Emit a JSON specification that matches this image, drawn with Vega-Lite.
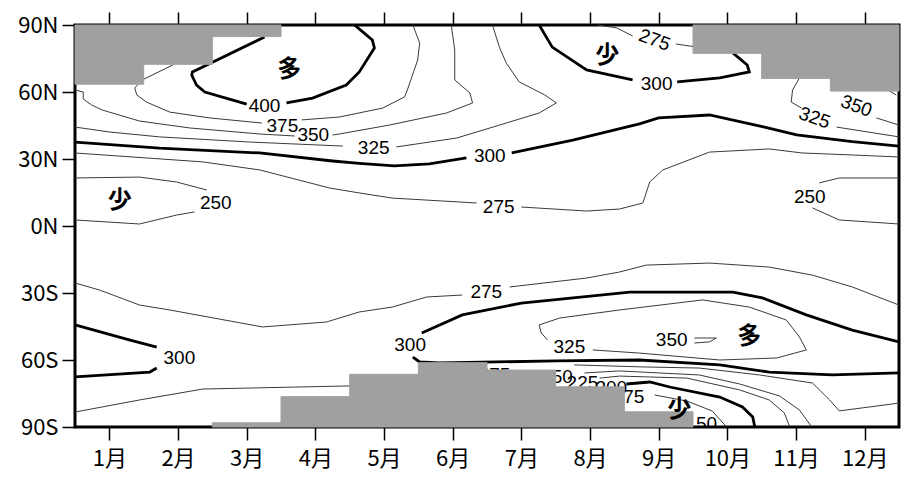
{
  "$schema": "https://vega.github.io/schema/vega-lite/v6.json",
  "width": 824,
  "height": 402,
  "autosize": {"type": "none"},
  "padding": {"left": 75, "top": 25, "right": 5, "bottom": 50},
  "background": "white",
  "config": {
    "view": {"stroke": "black", "strokeWidth": 3},
    "axis": {"domain": false, "grid": false, "tickColor": "black", "tickWidth": 1.5, "tickSize": 13, "labelColor": "black", "labelFont": "Noto Sans CJK JP", "labelFontSize": 22, "labelPadding": 4, "labelOverlap": false, "title": null}
  },
  "resolve": {"axis": {"x": "independent"}},
  "datasets": {
    "lines": [
      {"c":"n400a","v":400,"m":3.26,"lat":84.6},{"c":"n400a","v":400,"m":2.21,"lat":69.0},{"c":"n400a","v":400,"m":2.20,"lat":67.6},{"c":"n400a","v":400,"m":2.27,"lat":63.1},{"c":"n400a","v":400,"m":2.39,"lat":60.0},{"c":"n400a","v":400,"m":2.90,"lat":55.5},{"c":"n400a","v":400,"m":3.00,"lat":54.6},
      {"c":"n400b","v":400,"m":3.58,"lat":55.1},{"c":"n400b","v":400,"m":3.96,"lat":57.3},{"c":"n400b","v":400,"m":4.45,"lat":63.1},{"c":"n400b","v":400,"m":4.64,"lat":69.0},{"c":"n400b","v":400,"m":4.86,"lat":79.7},{"c":"n400b","v":400,"m":4.83,"lat":83.3},{"c":"n400b","v":400,"m":4.69,"lat":86.9},{"c":"n400b","v":400,"m":4.57,"lat":90},
      {"c":"n375a","v":375,"m":1.95,"lat":72.5},{"c":"n375a","v":375,"m":1.48,"lat":65.4},{"c":"n375a","v":375,"m":1.37,"lat":61.8},{"c":"n375a","v":375,"m":1.40,"lat":58.7},{"c":"n375a","v":375,"m":1.54,"lat":55.5},{"c":"n375a","v":375,"m":1.88,"lat":51.0},{"c":"n375a","v":375,"m":2.46,"lat":48.4},{"c":"n375a","v":375,"m":3.22,"lat":46.1},
      {"c":"n375b","v":375,"m":3.80,"lat":47.5},{"c":"n375b","v":375,"m":4.35,"lat":48.8},{"c":"n375b","v":375,"m":4.98,"lat":52.8},{"c":"n375b","v":375,"m":5.30,"lat":57.8},{"c":"n375b","v":375,"m":5.34,"lat":60.9},{"c":"n375b","v":375,"m":5.49,"lat":74.3},{"c":"n375b","v":375,"m":5.52,"lat":81.9},{"c":"n375b","v":375,"m":5.42,"lat":90},
      {"c":"n350a","v":350,"m":0.5,"lat":60.9},{"c":"n350a","v":350,"m":0.62,"lat":60.0},{"c":"n350a","v":350,"m":0.62,"lat":56.9},{"c":"n350a","v":350,"m":0.74,"lat":54.2},{"c":"n350a","v":350,"m":0.90,"lat":51.9},{"c":"n350a","v":350,"m":1.44,"lat":47.0},{"c":"n350a","v":350,"m":2.17,"lat":43.9},{"c":"n350a","v":350,"m":3.19,"lat":41.2},{"c":"n350a","v":350,"m":3.70,"lat":40.3},
      {"c":"n350b","v":350,"m":4.25,"lat":40.75},{"c":"n350b","v":350,"m":4.35,"lat":41.2},{"c":"n350b","v":350,"m":5.08,"lat":45.2},{"c":"n350b","v":350,"m":5.91,"lat":50.6},{"c":"n350b","v":350,"m":6.29,"lat":55.1},{"c":"n350b","v":350,"m":6.25,"lat":59.6},{"c":"n350b","v":350,"m":6.03,"lat":65.4},{"c":"n350b","v":350,"m":6.03,"lat":78.8},{"c":"n350b","v":350,"m":5.98,"lat":90},
      {"c":"n325a","v":325,"m":0.5,"lat":44.3},{"c":"n325a","v":325,"m":1.0,"lat":42.1},{"c":"n325a","v":325,"m":1.73,"lat":39.9},{"c":"n325a","v":325,"m":3.04,"lat":37.6},{"c":"n325a","v":325,"m":4.40,"lat":35.8},
      {"c":"n325b","v":325,"m":5.18,"lat":35.4},{"c":"n325b","v":325,"m":6.06,"lat":39.4},{"c":"n325b","v":325,"m":6.78,"lat":46.1},{"c":"n325b","v":325,"m":7.26,"lat":50.6},{"c":"n325b","v":325,"m":7.51,"lat":55.1},{"c":"n325b","v":325,"m":7.34,"lat":58.7},{"c":"n325b","v":325,"m":6.97,"lat":64.5},{"c":"n325b","v":325,"m":6.78,"lat":73.0},{"c":"n325b","v":325,"m":6.68,"lat":80.1},{"c":"n325b","v":325,"m":6.58,"lat":90},
      {"c":"n300a","v":300,"m":0.5,"lat":37.6},{"c":"n300a","v":300,"m":1.73,"lat":34.9},{"c":"n300a","v":300,"m":3.19,"lat":32.7},{"c":"n300a","v":300,"m":4.25,"lat":29.1},{"c":"n300a","v":300,"m":4.64,"lat":28.0},{"c":"n300a","v":300,"m":5.15,"lat":26.9},{"c":"n300a","v":300,"m":5.66,"lat":27.8},{"c":"n300a","v":300,"m":6.20,"lat":30.5},
      {"c":"n300b","v":300,"m":6.86,"lat":32.7},{"c":"n300b","v":300,"m":7.75,"lat":38.5},{"c":"n300b","v":300,"m":8.72,"lat":45.7},{"c":"n300b","v":300,"m":9.0,"lat":48.4},{"c":"n300b","v":300,"m":9.74,"lat":49.7},{"c":"n300b","v":300,"m":10.51,"lat":44.5},{"c":"n300b","v":300,"m":11.01,"lat":40.8},{"c":"n300b","v":300,"m":11.82,"lat":37.8},{"c":"n300b","v":300,"m":12.5,"lat":35.8},
      {"c":"n300c","v":300,"m":7.26,"lat":90},{"c":"n300c","v":300,"m":7.45,"lat":80.1},{"c":"n300c","v":300,"m":7.95,"lat":69.9},{"c":"n300c","v":300,"m":8.62,"lat":65.4},
      {"c":"n300d","v":300,"m":9.27,"lat":64.5},{"c":"n300d","v":300,"m":9.89,"lat":66.3},{"c":"n300d","v":300,"m":10.32,"lat":69.0},{"c":"n300d","v":300,"m":10.29,"lat":72.1},{"c":"n300d","v":300,"m":10.08,"lat":77.5},
      {"c":"n275c","v":275,"m":8.11,"lat":90},{"c":"n275c","v":275,"m":8.39,"lat":88.7},{"c":"n275c","v":275,"m":8.62,"lat":85.1},
      {"c":"n275d","v":275,"m":9.25,"lat":81.5},{"c":"n275d","v":275,"m":9.54,"lat":80.2},
      {"c":"n275a","v":275,"m":0.5,"lat":32.7},{"c":"n275a","v":275,"m":2.36,"lat":28.7},{"c":"n275a","v":275,"m":3.19,"lat":25.1},{"c":"n275a","v":275,"m":4.21,"lat":17.0},{"c":"n275a","v":275,"m":4.64,"lat":14.8},{"c":"n275a","v":275,"m":5.12,"lat":12.5},{"c":"n275a","v":275,"m":6.35,"lat":10.3},
      {"c":"n275b","v":275,"m":7.0,"lat":8.5},{"c":"n275b","v":275,"m":7.95,"lat":6.7},{"c":"n275b","v":275,"m":8.43,"lat":7.6},{"c":"n275b","v":275,"m":8.77,"lat":10.3},{"c":"n275b","v":275,"m":8.87,"lat":19.7},{"c":"n275b","v":275,"m":9.06,"lat":25.1},{"c":"n275b","v":275,"m":9.74,"lat":33.1},{"c":"n275b","v":275,"m":10.61,"lat":34.5},{"c":"n275b","v":275,"m":11.09,"lat":32.7},{"c":"n275b","v":275,"m":11.82,"lat":31.8},{"c":"n275b","v":275,"m":12.5,"lat":30.9},
      {"c":"n250a","v":250,"m":0.5,"lat":21.5},{"c":"n250a","v":250,"m":1.44,"lat":21.9},{"c":"n250a","v":250,"m":1.98,"lat":19.7},{"c":"n250a","v":250,"m":2.42,"lat":16.1},
      {"c":"n250b","v":250,"m":2.24,"lat":6.3},{"c":"n250b","v":250,"m":1.98,"lat":4.9},{"c":"n250b","v":250,"m":1.44,"lat":0.9},{"c":"n250b","v":250,"m":0.5,"lat":2.7},
      {"c":"n250c","v":250,"m":12.5,"lat":21.5},{"c":"n250c","v":250,"m":11.63,"lat":21.5},{"c":"n250c","v":250,"m":11.34,"lat":19.3},
      {"c":"n250d","v":250,"m":11.24,"lat":8.1},{"c":"n250d","v":250,"m":11.63,"lat":2.7},{"c":"n250d","v":250,"m":12.5,"lat":0.9},
      {"c":"n325c","v":325,"m":11.05,"lat":66.3},{"c":"n325c","v":325,"m":10.95,"lat":60.9},{"c":"n325c","v":325,"m":10.93,"lat":55.5},{"c":"n325c","v":325,"m":11.08,"lat":52.8},
      {"c":"n325d","v":325,"m":11.59,"lat":44.3},{"c":"n325d","v":325,"m":12.5,"lat":39.9},
      {"c":"n350c","v":350,"m":12.36,"lat":60.45},{"c":"n350c","v":350,"m":12.46,"lat":58.66},
      {"c":"n350d","v":350,"m":12.17,"lat":48.4},{"c":"n350d","v":350,"m":12.5,"lat":45.2},
      {"c":"s275a","v":275,"m":0.5,"lat":-25.5},{"c":"s275a","v":275,"m":0.86,"lat":-28.7},{"c":"s275a","v":275,"m":1.44,"lat":-35.4},{"c":"s275a","v":275,"m":1.88,"lat":-37.6},{"c":"s275a","v":275,"m":3.23,"lat":-45.2},{"c":"s275a","v":275,"m":4.16,"lat":-43.0},{"c":"s275a","v":275,"m":4.64,"lat":-38.5},{"c":"s275a","v":275,"m":5.12,"lat":-36.3},{"c":"s275a","v":275,"m":5.62,"lat":-31.8},{"c":"s275a","v":275,"m":6.14,"lat":-30.9},
      {"c":"s275b","v":275,"m":6.83,"lat":-27.3},{"c":"s275b","v":275,"m":7.95,"lat":-23.3},{"c":"s275b","v":275,"m":8.43,"lat":-20.6},{"c":"s275b","v":275,"m":8.82,"lat":-17.5},{"c":"s275b","v":275,"m":9.74,"lat":-16.6},{"c":"s275b","v":275,"m":10.61,"lat":-18.4},{"c":"s275b","v":275,"m":11.24,"lat":-22.0},{"c":"s275b","v":275,"m":11.82,"lat":-27.3},{"c":"s275b","v":275,"m":12.5,"lat":-35.4},
      {"c":"s300a","v":300,"m":0.5,"lat":-44.3},{"c":"s300a","v":300,"m":1.29,"lat":-51.0},{"c":"s300a","v":300,"m":1.69,"lat":-54.2},
      {"c":"s300b","v":300,"m":1.69,"lat":-63.6},{"c":"s300b","v":300,"m":1.59,"lat":-65.4},{"c":"s300b","v":300,"m":0.5,"lat":-67.6},
      {"c":"s300c","v":300,"m":12.5,"lat":-51.9},{"c":"s300c","v":300,"m":11.82,"lat":-46.6},{"c":"s300c","v":300,"m":11.15,"lat":-39.8},{"c":"s300c","v":300,"m":10.51,"lat":-32.2},{"c":"s300c","v":300,"m":10.08,"lat":-29.6},{"c":"s300c","v":300,"m":8.58,"lat":-29.6},{"c":"s300c","v":300,"m":7.0,"lat":-34.5},{"c":"s300c","v":300,"m":6.14,"lat":-39.8},{"c":"s300c","v":300,"m":5.55,"lat":-47.9},
      {"c":"s300d","v":300,"m":5.42,"lat":-58.7},{"c":"s300d","v":300,"m":5.52,"lat":-60.9},{"c":"s300d","v":300,"m":5.81,"lat":-61.3},{"c":"s300d","v":300,"m":7.51,"lat":-60.4},{"c":"s300d","v":300,"m":8.72,"lat":-60.0},{"c":"s300d","v":300,"m":9.89,"lat":-62.2},{"c":"s300d","v":300,"m":10.61,"lat":-65.4},{"c":"s300d","v":300,"m":11.53,"lat":-66.7},{"c":"s300d","v":300,"m":12.5,"lat":-65.8},
      {"c":"s325","v":325,"m":7.38,"lat":-51.0},{"c":"s325","v":325,"m":7.29,"lat":-47.9},{"c":"s325","v":325,"m":7.26,"lat":-44.3},{"c":"s325","v":325,"m":7.56,"lat":-41.2},{"c":"s325","v":325,"m":8.43,"lat":-37.6},{"c":"s325","v":325,"m":9.64,"lat":-33.1},{"c":"s325","v":325,"m":10.32,"lat":-36.3},{"c":"s325","v":325,"m":10.86,"lat":-42.1},{"c":"s325","v":325,"m":11.05,"lat":-49.7},{"c":"s325","v":325,"m":11.15,"lat":-55.5},{"c":"s325","v":325,"m":10.72,"lat":-59.1},{"c":"s325","v":325,"m":9.89,"lat":-60.0},{"c":"s325","v":325,"m":8.72,"lat":-56.9},{"c":"s325","v":325,"m":8.04,"lat":-55.5},
      {"c":"s350","v":350,"m":9.52,"lat":-50.15},{"c":"s350","v":350,"m":9.84,"lat":-50.15},{"c":"s350","v":350,"m":9.74,"lat":-51.9},{"c":"s350","v":350,"m":9.52,"lat":-52.4},
      {"c":"s275c","v":275,"m":0.5,"lat":-83.3},{"c":"s275c","v":275,"m":1.44,"lat":-77.9},{"c":"s275c","v":275,"m":2.36,"lat":-73.0},{"c":"s275c","v":275,"m":4.50,"lat":-71.6},
      {"c":"s275d","v":275,"m":7.77,"lat":-62.2},{"c":"s275d","v":275,"m":8.77,"lat":-63.1},{"c":"s275d","v":275,"m":9.59,"lat":-63.6},{"c":"s275d","v":275,"m":10.47,"lat":-66.7},{"c":"s275d","v":275,"m":11.24,"lat":-70.3},{"c":"s275d","v":275,"m":11.49,"lat":-77.9},{"c":"s275d","v":275,"m":11.63,"lat":-82.8},{"c":"s275d","v":275,"m":12.5,"lat":-79.3},
      {"c":"s250","v":250,"m":7.92,"lat":-65.8},{"c":"s250","v":250,"m":8.43,"lat":-64.9},{"c":"s250","v":250,"m":9.59,"lat":-66.7},{"c":"s250","v":250,"m":10.18,"lat":-70.75},{"c":"s250","v":250,"m":10.76,"lat":-76.1},{"c":"s250","v":250,"m":11.05,"lat":-82.4},{"c":"s250","v":250,"m":11.23,"lat":-90},
      {"c":"s225","v":225,"m":8.14,"lat":-68.1},{"c":"s225","v":225,"m":8.43,"lat":-67.2},{"c":"s225","v":225,"m":9.41,"lat":-68.1},{"c":"s225","v":225,"m":10.18,"lat":-73.4},{"c":"s225","v":225,"m":10.61,"lat":-77.9},{"c":"s225","v":225,"m":10.83,"lat":-83.7},{"c":"s225","v":225,"m":10.91,"lat":-90},
      {"c":"s200","v":200,"m":8.53,"lat":-70.75},{"c":"s200","v":200,"m":8.87,"lat":-69.85},{"c":"s200","v":200,"m":9.16,"lat":-72.09},{"c":"s200","v":200,"m":9.89,"lat":-76.57},{"c":"s200","v":200,"m":10.22,"lat":-81.04},{"c":"s200","v":200,"m":10.37,"lat":-85.52},{"c":"s200","v":200,"m":10.40,"lat":-90},
      {"c":"s175","v":175,"m":8.94,"lat":-75.67},{"c":"s175","v":175,"m":9.41,"lat":-78.36},{"c":"s175","v":175,"m":9.78,"lat":-82.84},{"c":"s175","v":175,"m":9.99,"lat":-90}
    ],
    "labels": [
      {"t":"400","m":3.26,"lat":53.7},
      {"t":"375","m":3.52,"lat":44.8},
      {"t":"350","m":3.97,"lat":40.7},
      {"t":"325","m":4.85,"lat":34.9},
      {"t":"300","m":6.54,"lat":31.3},
      {"t":"300","m":8.97,"lat":63.6},
      {"t":"275","m":6.67,"lat":8.5},
      {"t":"250","m":2.55,"lat":10.3},
      {"t":"250","m":11.2,"lat":13.0},
      {"t":"275","m":6.49,"lat":-29.6},
      {"t":"300","m":2.02,"lat":-59.1},
      {"t":"300","m":5.38,"lat":-53.3},
      {"t":"325","m":7.70,"lat":-54.2},
      {"t":"350","m":9.19,"lat":-51.0},
      {"t":"275","m":6.61,"lat":-66.7},
      {"t":"250","m":7.52,"lat":-67.4},
      {"t":"225","m":7.89,"lat":-70.3},
      {"t":"200","m":8.31,"lat":-72.5},
      {"t":"175","m":8.56,"lat":-76.6},
      {"t":"150","m":9.62,"lat":-88.7}
    ],
    "tilted": [
      {"t":"275","m":8.94,"lat":83.3},
      {"t":"325","m":11.27,"lat":48.4},
      {"t":"350","m":11.88,"lat":53.7}
    ],
    "mask": [
      {"m1":0.5,"m2":1.5,"l1":63.5,"l2":90},
      {"m1":1.5,"m2":2.5,"l1":72.4,"l2":90},
      {"m1":2.5,"m2":3.5,"l1":84.8,"l2":90},
      {"m1":9.5,"m2":10.5,"l1":77.3,"l2":90},
      {"m1":10.5,"m2":11.5,"l1":66.1,"l2":90},
      {"m1":11.5,"m2":12.5,"l1":60.4,"l2":90},
      {"m1":2.5,"m2":3.5,"l1":-90,"l2":-88.1},
      {"m1":3.5,"m2":4.5,"l1":-90,"l2":-76.4},
      {"m1":4.5,"m2":5.5,"l1":-90,"l2":-66.4},
      {"m1":5.5,"m2":6.5,"l1":-90,"l2":-61.2},
      {"m1":6.5,"m2":7.5,"l1":-90,"l2":-64.5},
      {"m1":7.5,"m2":8.5,"l1":-90,"l2":-72.0},
      {"m1":8.5,"m2":9.5,"l1":-90,"l2":-83.2}
    ],
    "marks": [
      {"t":"多","m":3.62,"lat":69.9},
      {"t":"少","m":1.15,"lat":11.2},
      {"t":"少","m":8.25,"lat":76.1},
      {"t":"多","m":10.32,"lat":-49.7},
      {"t":"少","m":9.30,"lat":-82.4}
    ]
  },
  "layer": [
    {
      "data": {"name": "lines"},
      "transform": [{"filter": "datum.v % 100 !== 0"}],
      "mark": {"type": "line", "stroke": "#3a3a3a", "strokeWidth": 1, "interpolate": "linear"},
      "encoding": {
        "x": {"field": "m", "type": "quantitative", "scale": {"domain": [0.5, 12.5], "nice": false, "zero": false}, "axis": {"orient": "bottom", "values": [1,2,3,4,5,6,7,8,9,10,11,12], "labelExpr": "datum.value + '月'", "labelFlush": false, "labelPadding": 8}},
        "y": {"field": "lat", "type": "quantitative", "scale": {"domain": [-90, 90], "nice": false, "zero": false}, "axis": {"values": [-90,-60,-30,0,30,60,90], "labelExpr": "datum.value > 0 ? datum.value + 'N' : (datum.value < 0 ? (-datum.value) + 'S' : '0N')", "labelPadding": 4}},
        "detail": {"field": "c"},
        "order": {"value": null}
      }
    },
    {
      "data": {"name": "lines"},
      "transform": [{"filter": "datum.v % 100 === 0"}],
      "mark": {"type": "line", "stroke": "black", "strokeWidth": 2.8},
      "encoding": {
        "x": {"field": "m", "type": "quantitative", "axis": {"orient": "top", "values": [1,2,3,4,5,6,7,8,9,10,11,12], "labels": false}},
        "y": {"field": "lat", "type": "quantitative"},
        "detail": {"field": "c"},
        "order": {"value": null}
      }
    },
    {
      "data": {"name": "labels"},
      "mark": {"type": "text", "font": "Liberation Sans", "fontSize": 19, "color": "black", "align": "center", "baseline": "middle", "clip": true},
      "encoding": {
        "x": {"field": "m", "type": "quantitative", "axis": null},
        "y": {"field": "lat", "type": "quantitative"},
        "text": {"field": "t"}
      }
    },
    {
      "data": {"name": "tilted"},
      "mark": {"type": "text", "font": "Liberation Sans", "fontSize": 19, "color": "black", "align": "center", "baseline": "middle", "angle": 20},
      "encoding": {
        "x": {"field": "m", "type": "quantitative", "axis": null},
        "y": {"field": "lat", "type": "quantitative"},
        "text": {"field": "t"}
      }
    },
    {
      "data": {"name": "mask"},
      "mark": {"type": "rect", "color": "#a0a0a0", "stroke": "#a0a0a0", "strokeWidth": 1},
      "encoding": {
        "x": {"field": "m1", "type": "quantitative", "axis": null},
        "x2": {"field": "m2"},
        "y": {"field": "l1", "type": "quantitative"},
        "y2": {"field": "l2"}
      }
    },
    {
      "data": {"name": "marks"},
      "mark": {"type": "text", "font": "Noto Sans CJK JP", "fontSize": 24, "fontWeight": "bold", "color": "black", "align": "center", "baseline": "middle"},
      "encoding": {
        "x": {"field": "m", "type": "quantitative", "axis": null},
        "y": {"field": "lat", "type": "quantitative"},
        "text": {"field": "t"}
      }
    }
  ]
}
